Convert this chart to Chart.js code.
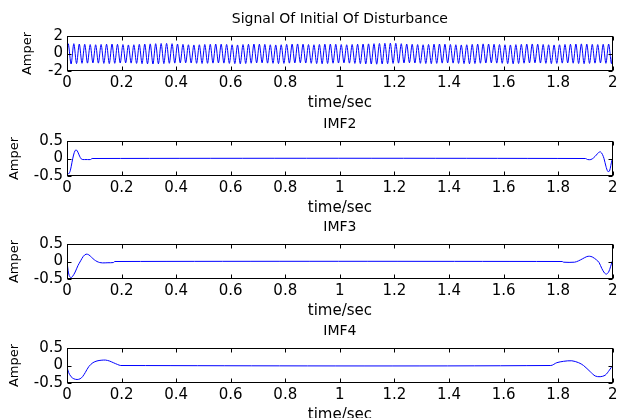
<!DOCTYPE html>
<html><head><meta charset="utf-8">
<script src="https://cdn.jsdelivr.net/npm/chart.js@4.4.1/dist/chart.umd.min.js"></script>
<style>
html,body{margin:0;padding:0;background:#fff;width:621px;height:418px;overflow:hidden;position:relative;}
canvas{position:absolute;left:0;}
</style></head><body>
<canvas id="c1"></canvas><canvas id="c2"></canvas><canvas id="c3"></canvas><canvas id="c4"></canvas>
<script>
// ---------- data ----------
const panelTitles = ["Signal Of Initial Of Disturbance", "IMF2", "IMF3", "IMF4"];
const xTitle = "time/sec";
const yTitle = "Amper";

// Signal: peak value of each 50 Hz cycle and trough value of each cycle
const signalPeaks = [
 1.10,1.12,1.08,1.05,1.02,1.00,1.03,1.06,1.08,1.05,
 1.02,0.98,1.00,1.04,1.07,1.10,1.12,1.14,1.15,1.12,
 1.08,1.04,1.00,0.98,1.00,1.03,1.05,1.08,1.06,1.03,
 1.00,0.98,1.02,1.05,1.08,1.06,1.04,1.00,0.98,1.00,
 1.04,1.07,1.09,1.06,1.02,1.00,1.03,1.06,1.08,1.05,
 1.02,1.00,1.03,1.06,1.08,1.10,1.12,1.14,1.16,1.18,
 1.16,1.12,1.08,1.05,1.02,1.00,1.03,1.06,1.08,1.06,
 1.03,1.00,0.98,1.00,1.04,1.07,1.10,1.08,1.05,1.02,
 1.00,0.98,1.01,1.04,1.07,1.09,1.06,1.03,1.00,0.98,
 1.00,1.03,1.06,1.08,1.10,1.07,1.04,1.02,1.05,1.08];
const signalTroughs = [
 -1.20,-1.15,-1.12,-1.10,-1.08,-1.10,-1.13,-1.15,-1.12,-1.09,
 -1.07,-1.10,-1.13,-1.16,-1.18,-1.20,-1.18,-1.15,-1.12,-1.10,
 -1.08,-1.06,-1.09,-1.12,-1.14,-1.12,-1.10,-1.08,-1.10,-1.13,
 -1.15,-1.17,-1.14,-1.11,-1.08,-1.07,-1.10,-1.12,-1.15,-1.13,
 -1.10,-1.08,-1.06,-1.09,-1.12,-1.15,-1.17,-1.14,-1.11,-1.09,
 -1.07,-1.10,-1.13,-1.15,-1.18,-1.20,-1.22,-1.19,-1.16,-1.13,
 -1.10,-1.08,-1.06,-1.09,-1.12,-1.14,-1.16,-1.13,-1.10,-1.08,
 -1.10,-1.13,-1.15,-1.17,-1.14,-1.11,-1.09,-1.07,-1.10,-1.12,
 -1.15,-1.17,-1.14,-1.11,-1.08,-1.06,-1.09,-1.12,-1.15,-1.13,
 -1.10,-1.08,-1.11,-1.14,-1.16,-1.13,-1.10,-1.08,-1.12,-1.15];

const imf2T = [0,0.002,0.006,0.012,0.018,0.024,0.030,0.035,0.040,0.046,0.052,0.058,0.064,0.075,0.086,0.092,
               1.900,1.908,1.920,1.930,1.940,1.948,1.955,1.962,1.968,1.975,1.982,1.988,1.993,1.997,2.0];
const imf2V = [-0.10,-0.40,-0.44,-0.35,-0.12,0.10,0.23,0.24,0.18,0.07,-0.01,-0.03,-0.03,-0.03,-0.03,0,
               0,-0.03,-0.03,0.02,0.10,0.17,0.19,0.12,0.0,-0.22,-0.37,-0.36,-0.20,-0.05,0.0];

const imf3T = [0,0.004,0.008,0.014,0.020,0.030,0.040,0.050,0.060,0.070,0.080,0.090,0.100,0.110,0.120,0.130,0.150,0.170,0.175,
               1.815,1.820,1.860,1.875,1.890,1.905,1.915,1.925,1.940,1.950,1.960,1.970,1.977,1.985,1.992,1.998,2.0];
const imf3V = [0,-0.25,-0.40,-0.46,-0.43,-0.30,-0.12,0.02,0.15,0.21,0.19,0.12,0.05,0.0,-0.03,-0.04,-0.035,-0.03,0,
               0,-0.02,-0.02,0.02,0.08,0.14,0.15,0.13,0.05,-0.03,-0.20,-0.33,-0.36,-0.30,-0.15,0.0,0.02];

const imf4T = [0,0.006,0.015,0.025,0.037,0.048,0.057,0.067,0.080,0.095,0.110,0.125,0.141,0.155,0.170,0.185,0.197,
               1.773,1.795,1.820,1.850,1.875,1.893,1.918,1.936,1.954,1.972,1.988,2.0];
const imf4V = [-0.04,-0.20,-0.32,-0.38,-0.40,-0.38,-0.32,-0.20,-0.03,0.08,0.13,0.15,0.155,0.13,0.08,0.03,0.0,
               0,0.08,0.12,0.135,0.08,0.0,-0.18,-0.30,-0.32,-0.28,-0.13,0.01];

const xMin = 0, xMax = 2, xStep = 0.2;
const yRanges = [[-2, 2, 2], [-0.5, 0.5, 0.5], [-0.5, 0.5, 0.5], [-0.5, 0.5, 0.5]];

// ---------- build point lists ----------
const sigPts = [{x: 0, y: 0}];
for (let k = 0; k < signalPeaks.length; k++) {
  sigPts.push({x: 0.005 + 0.02 * k, y: signalPeaks[k]});
  sigPts.push({x: 0.015 + 0.02 * k, y: signalTroughs[k]});
}
sigPts.push({x: 2, y: 0});
const zip = (t, v) => t.map((x, i) => ({x, y: v[i]}));
const series = [sigPts, zip(imf2T, imf2V), zip(imf3T, imf3V), zip(imf4T, imf4V)];

// ---------- layout ----------
const canvasTops = [0, 105, 208, 312];
const areaH = 35, titleH = 36, xAxisH = 41;
const plotLeft = 67, plotRight = 614, W = 621;
const padLefts = [20, 7, 7, 7];
const FONT = "'DejaVu Sans', sans-serif";
const fmt = v => String(Number(Number(v).toFixed(2)));

const frame = {
  id: 'frame',
  afterDraw(chart) {
    const {ctx, chartArea: a, scales} = chart;
    ctx.save();
    ctx.strokeStyle = '#000';
    ctx.lineWidth = 1;
    const L = Math.round(a.left) + 0.5, R = Math.round(a.right) - 0.5;
    const T = Math.round(a.top) + 0.5, B = Math.round(a.bottom) - 0.5;
    ctx.strokeRect(L, T, R - L, B - T);
    const tl = 4;
    ctx.beginPath();
    scales.x.ticks.forEach(t => {
      const px = Math.round(scales.x.getPixelForValue(t.value)) + 0.5;
      ctx.moveTo(px, B); ctx.lineTo(px, B - tl);
      ctx.moveTo(px, T); ctx.lineTo(px, T + tl);
    });
    scales.y.ticks.forEach(t => {
      const py = Math.round(scales.y.getPixelForValue(t.value)) + 0.5;
      ctx.moveTo(L, py); ctx.lineTo(L + tl, py);
      ctx.moveTo(R, py); ctx.lineTo(R - tl, py);
    });
    ctx.stroke();
    ctx.restore();
  }
};

for (let i = 0; i < 4; i++) {
  const cv = document.getElementById('c' + (i + 1));
  const H = titleH + areaH + xAxisH;
  cv.width = W; cv.height = H;
  cv.style.top = canvasTops[i] + 'px';
  const [ymin, ymax, ystep] = yRanges[i];
  new Chart(cv, {
    type: 'line',
    data: {datasets: [{
      data: series[i], borderColor: '#0000ff', borderWidth: 1, pointRadius: 0,
      tension: 0.3, fill: false
    }]},
    options: {
      responsive: false, animation: false, devicePixelRatio: 1,
      layout: {padding: {left: padLefts[i], right: W - plotRight, top: 0, bottom: 0}},
      plugins: {
        legend: {display: false}, tooltip: {enabled: false},
        title: {display: true, text: panelTitles[i], color: '#000', fullSize: false,
                font: {family: FONT, size: 14, weight: 'normal', lineHeight: 1.2},
                padding: {top: 11, bottom: 8.2}}
      },
      scales: {
        x: {type: 'linear', min: xMin, max: xMax,
            grid: {display: false, drawTicks: false}, border: {display: false},
            ticks: {stepSize: xStep, color: '#000', padding: 3.5, maxRotation: 0, autoSkip: false,
                    callback: fmt, font: {family: FONT, size: 15}},
            title: {display: true, text: xTitle, color: '#000', padding: 0,
                    font: {family: FONT, size: 15}},
            afterFit(s) { s.height = xAxisH; }},
        y: {min: ymin, max: ymax,
            grid: {display: false, drawTicks: false}, border: {display: false},
            ticks: {stepSize: ystep, color: '#000', padding: 4, autoSkip: false, maxTicksLimit: 20,
                    callback: fmt, font: {family: FONT, size: 15}},
            title: {display: true, text: yTitle, color: '#000', padding: 0,
                    font: {family: FONT, size: 13}},
            afterFit(s) { s.width = plotLeft - padLefts[i]; }}
      }
    },
    plugins: [frame]
  });
}
</script>
</body></html>
